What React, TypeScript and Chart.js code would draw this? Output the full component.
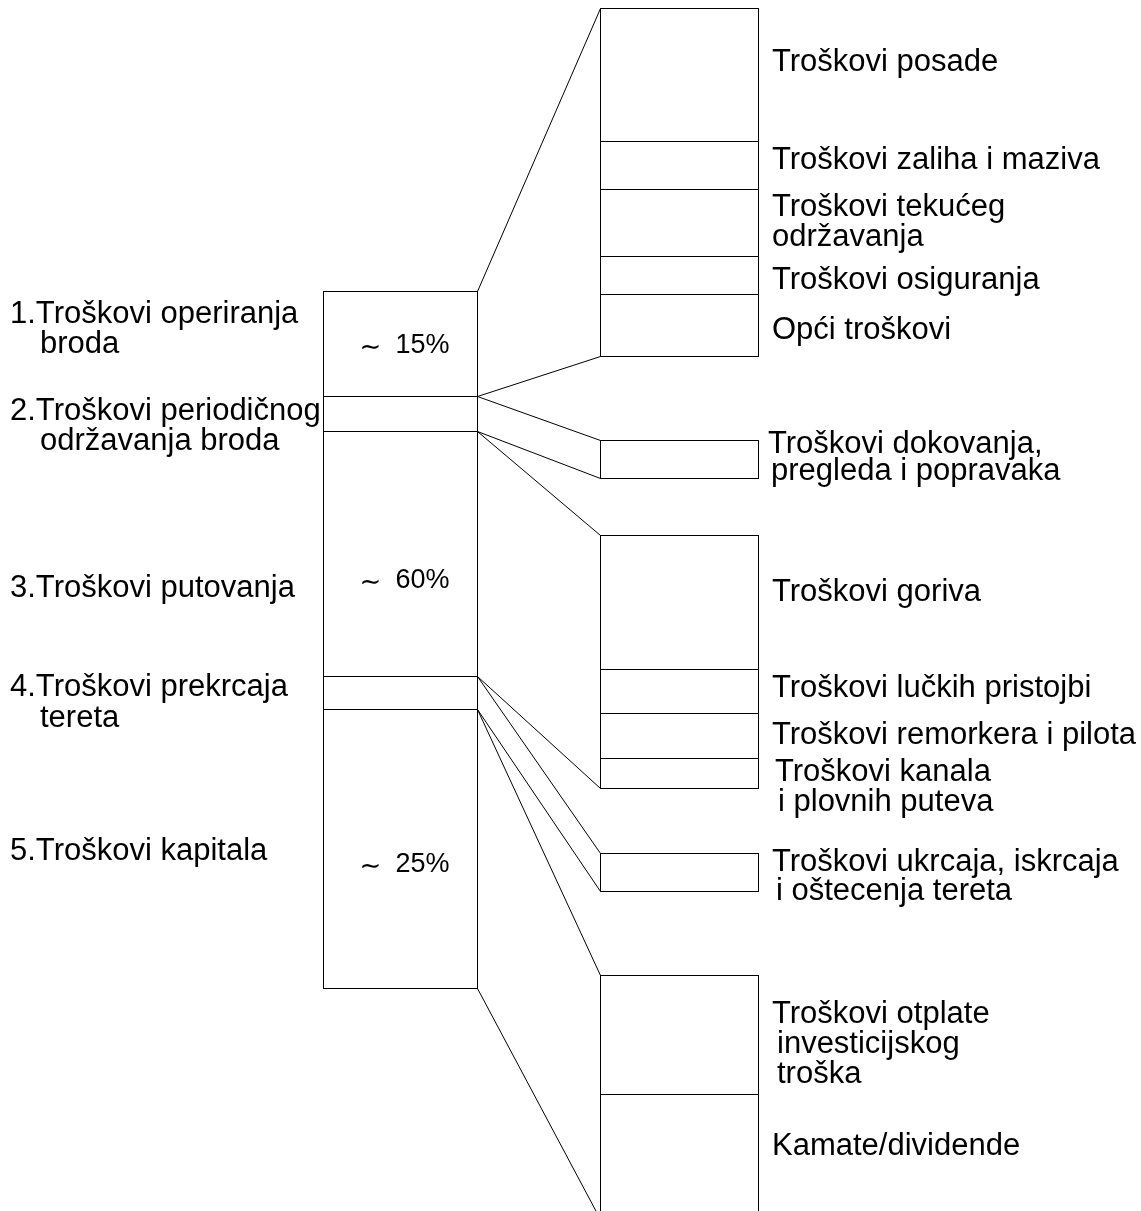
import React, { useEffect, useRef } from 'react';
import { Chart, registerables } from 'chart.js';

Chart.register(...registerables);

// ---------- DATA ----------
// Left column: main cost groups (schematic segment heights, diagram units on a 0..1211 axis)
const mainCategories: string[][] = [
  ['1.Troškovi operiranja', 'broda'],
  ['2.Troškovi periodičnog', 'održavanja broda'],
  ['3.Troškovi putovanja'],
  ['4.Troškovi prekrcaja', 'tereta'],
  ['5.Troškovi kapitala'],
];
const mainShares: (number | null)[] = [15, null, 60, null, 25];
const mainStart = 291;
const mainHeights = [105, 35, 245, 33, 280];

// Right column: breakdown of each main group
const detailCategories: string[][][] = [
  [['Troškovi posade'], ['Troškovi zaliha i maziva'], ['Troškovi tekućeg', 'održavanja'], ['Troškovi osiguranja'], ['Opći troškovi']],
  [['Troškovi dokovanja,', 'pregleda i popravaka']],
  [['Troškovi goriva'], ['Troškovi lučkih pristojbi'], ['Troškovi remorkera i pilota'], ['Troškovi kanala', 'i plovnih puteva']],
  [['Troškovi ukrcaja, iskrcaja', 'i oštecenja tereta']],
  [['Troškovi otplate', 'investicijskog', 'troška'], ['Kamate/dividende']],
];
const detailStarts = [8, 440, 535, 853, 975];
const detailHeights: number[][] = [
  [133, 48, 67, 38, 63],
  [39],
  [134, 44, 45, 31],
  [39],
  [119, 126],
];

// ---------- LAYOUT (text anchor positions, in canvas pixels) ----------
const mainLabelLayout = [
  { x: 10, y: 323, indent: 40, lh: 30 },
  { x: 10, y: 420, indent: 40, lh: 30 },
  { x: 10, y: 597, indent: 40, lh: 30 },
  { x: 10, y: 696, indent: 40, lh: 31 },
  { x: 10, y: 860, indent: 40, lh: 30 },
];
const shareBaselines: (number | null)[] = [353, null, 588, null, 872];
const detailLabelLayout = [
  [
    { x: 772, y: 71, indent: 772, lh: 30 },
    { x: 772, y: 169, indent: 772, lh: 30 },
    { x: 772, y: 216, indent: 772, lh: 30 },
    { x: 772, y: 289, indent: 772, lh: 30 },
    { x: 772, y: 339, indent: 772, lh: 30 },
  ],
  [{ x: 768, y: 453, indent: 771, lh: 27 }],
  [
    { x: 772, y: 601, indent: 772, lh: 30 },
    { x: 772, y: 697, indent: 772, lh: 30 },
    { x: 772, y: 744, indent: 772, lh: 30 },
    { x: 775, y: 781, indent: 778, lh: 30 },
  ],
  [{ x: 772, y: 871, indent: 776, lh: 29 }],
  [
    { x: 772, y: 1023, indent: 777, lh: 30 },
    { x: 772, y: 1155, indent: 772, lh: 30 },
  ],
];

const FONT = '"Liberation Sans", Arial, Helvetica, sans-serif';

function toRanges(start: number, heights: number[]): [number, number][] {
  const out: [number, number][] = [];
  let s = start;
  for (const h of heights) {
    out.push([s, s + h]);
    s += h;
  }
  return out;
}

function makeDataset(cat: string, start: number, heights: number[], thickness: number) {
  const ranges = toRanges(start, heights);
  const n = ranges.length;
  return {
    data: ranges.map((r) => ({ x: cat, y: r })),
    backgroundColor: 'rgba(255,255,255,0)',
    borderColor: '#000',
    borderSkipped: false as const,
    inflateAmount: 0,
    grouped: false,
    barThickness: thickness,
    borderWidth: (c: any) => ({ top: 1, left: 1, right: 1, bottom: c.dataIndex === n - 1 ? 1 : 0 }),
  };
}

const diagramPlugin = {
  id: 'diagramPlugin',
  afterDatasetsDraw(chart: any) {
    const ctx: CanvasRenderingContext2D = chart.ctx;
    const mainMeta = chart.getDatasetMeta(0);
    const nMain = mainMeta.data.length;
    ctx.save();
    ctx.strokeStyle = '#000';
    ctx.lineWidth = 1;
    const line = (x0: number, y0: number, x1: number, y1: number) => {
      ctx.beginPath();
      ctx.moveTo(x0, y0);
      ctx.lineTo(x1, y1);
      ctx.stroke();
    };
    mainMeta.data.forEach((bar: any, i: number) => {
      const p = bar.getProps(['x', 'y', 'base', 'width'], true);
      const gm = chart.getDatasetMeta(i + 1);
      const f = gm.data[0].getProps(['x', 'y', 'base', 'width'], true);
      const l = gm.data[gm.data.length - 1].getProps(['x', 'y', 'base', 'width'], true);
      const x0 = p.x + p.width / 2 - 0.5;
      const x1 = f.x - f.width / 2 + 0.5;
      const top0 = Math.min(p.y, p.base) + 0.5;
      const bot0 = i === nMain - 1 ? Math.max(p.y, p.base) - 0.5 : Math.max(p.y, p.base) + 0.5;
      const top1 = Math.min(f.y, f.base) + 0.5;
      const bot1 = Math.max(l.y, l.base) - 0.5;
      line(x0, top0, x1, top1);
      line(x0, bot0, x1, bot1);
    });

    ctx.fillStyle = '#000';
    ctx.textAlign = 'left';
    ctx.textBaseline = 'alphabetic';

    // main labels
    ctx.font = `31px ${FONT}`;
    mainCategories.forEach((lines, i) => {
      const L = mainLabelLayout[i];
      lines.forEach((t, k) => {
        ctx.fillText(t, k === 0 ? L.x : L.indent, L.y + k * L.lh);
      });
    });

    // share labels
    mainMeta.data.forEach((bar: any, i: number) => {
      const v = mainShares[i];
      const b = shareBaselines[i];
      if (v == null || b == null) return;
      const p = bar.getProps(['x'], true);
      ctx.textAlign = 'center';
      ctx.font = `26px "DejaVu Sans"`;
      ctx.fillText('∼', p.x - 30, b + 2);
      ctx.textAlign = 'left';
      ctx.font = `27px ${FONT}`;
      ctx.fillText(`${v}%`, p.x - 5, b);
    });

    // detail labels
    ctx.font = `31px ${FONT}`;
    detailCategories.forEach((group, g) => {
      group.forEach((lines, j) => {
        const L = detailLabelLayout[g][j];
        lines.forEach((t, k) => {
          ctx.fillText(t, k === 0 ? L.x : L.indent, L.y + k * L.lh);
        });
      });
    });
    ctx.restore();
  },
};

export default function App() {
  const ref = useRef<HTMLCanvasElement | null>(null);
  useEffect(() => {
    if (!ref.current) return;
    const datasets: any[] = [makeDataset('main', mainStart, mainHeights, 155)];
    detailHeights.forEach((h, g) => datasets.push(makeDataset('detail', detailStarts[g], h, 159)));
    const chart = new Chart(ref.current, {
      type: 'bar',
      data: { labels: ['main', 'detail'], datasets },
      options: {
        animation: false,
        responsive: false,
        devicePixelRatio: 1,
        layout: { padding: { left: 261, right: 322, top: 0, bottom: 0 } },
        plugins: { legend: { display: false }, tooltip: { enabled: false } },
        scales: {
          x: { type: 'category', display: false, offset: true },
          y: { type: 'linear', display: false, min: 0, max: 1211, reverse: true },
        },
      },
      plugins: [diagramPlugin],
    } as any);
    return () => chart.destroy();
  }, []);
  return (
    <div style={{ position: 'absolute', left: 0, top: 0, width: 1141, height: 1211, background: '#fff' }}>
      <canvas ref={ref} width={1141} height={1211} style={{ display: 'block', width: 1141, height: 1211 }} />
    </div>
  );
}
